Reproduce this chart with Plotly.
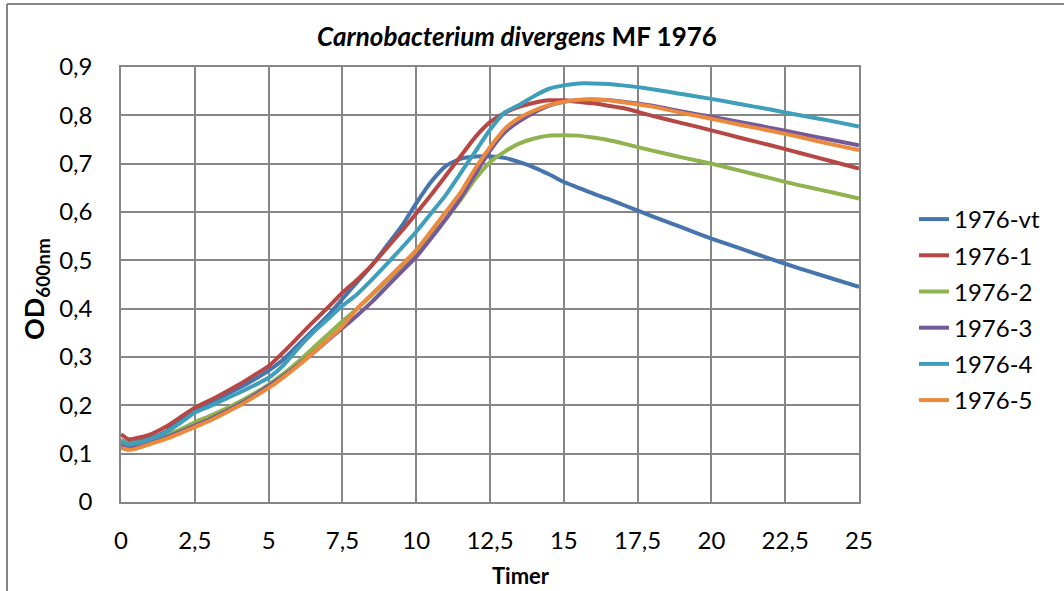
import plotly.graph_objects as go

# Time (hours)
timer = [0, 0.25, 0.5, 1, 1.5, 2, 2.5, 3, 3.5, 4, 4.5, 5, 5.5, 6, 6.5, 7, 7.5, 8, 8.5, 9,
         9.5, 10, 10.5, 11, 11.5, 12, 12.5, 13, 13.5, 14, 14.5, 15, 15.5, 16, 16.5, 17,
         18, 19, 20, 21, 22, 23, 24, 25]

od_vt = [0.128, 0.122, 0.124, 0.132, 0.145, 0.172, 0.190, 0.205, 0.220, 0.236, 0.253, 0.272,
         0.295, 0.325, 0.355, 0.385, 0.420, 0.455, 0.490, 0.530, 0.570, 0.618, 0.662, 0.695,
         0.710, 0.715, 0.715, 0.712, 0.703, 0.692, 0.678, 0.662, 0.650, 0.638, 0.627, 0.615,
         0.591, 0.568, 0.545, 0.524, 0.503, 0.483, 0.464, 0.445]

od_1 = [0.140, 0.130, 0.132, 0.140, 0.155, 0.175, 0.195, 0.210, 0.226, 0.243, 0.262, 0.281,
        0.310, 0.341, 0.372, 0.402, 0.433, 0.460, 0.490, 0.525, 0.560, 0.597, 0.635, 0.675,
        0.715, 0.755, 0.786, 0.805, 0.818, 0.826, 0.831, 0.831, 0.828, 0.825, 0.820, 0.815,
        0.799, 0.784, 0.769, 0.753, 0.738, 0.722, 0.706, 0.690]

od_2 = [0.127, 0.120, 0.122, 0.128, 0.138, 0.150, 0.165, 0.178, 0.192, 0.207, 0.224, 0.243,
        0.265, 0.290, 0.318, 0.346, 0.374, 0.400, 0.428, 0.457, 0.485, 0.515, 0.550, 0.585,
        0.625, 0.668, 0.703, 0.725, 0.742, 0.752, 0.758, 0.759, 0.758, 0.754, 0.749, 0.742,
        0.727, 0.713, 0.700, 0.685, 0.670, 0.655, 0.642, 0.628]

od_3 = [0.118, 0.112, 0.114, 0.123, 0.133, 0.145, 0.158, 0.171, 0.186, 0.202, 0.220, 0.240,
        0.261, 0.284, 0.308, 0.334, 0.360, 0.386, 0.414, 0.445, 0.476, 0.507, 0.545, 0.585,
        0.628, 0.678, 0.727, 0.765, 0.788, 0.806, 0.820, 0.828, 0.832, 0.833, 0.832, 0.828,
        0.820, 0.808, 0.797, 0.786, 0.774, 0.762, 0.750, 0.738]

od_4 = [0.125, 0.119, 0.121, 0.130, 0.143, 0.163, 0.185, 0.198, 0.212, 0.226, 0.241, 0.257,
        0.283, 0.318, 0.350, 0.378, 0.406, 0.430, 0.460, 0.492, 0.525, 0.559, 0.597, 0.635,
        0.680, 0.725, 0.770, 0.806, 0.822, 0.840, 0.855, 0.862, 0.866, 0.866, 0.865, 0.862,
        0.854, 0.844, 0.834, 0.823, 0.812, 0.800, 0.789, 0.777]

od_5 = [0.112, 0.108, 0.110, 0.120, 0.130, 0.142, 0.155, 0.168, 0.183, 0.199, 0.217, 0.236,
        0.258, 0.282, 0.308, 0.335, 0.364, 0.400, 0.430, 0.460, 0.490, 0.521, 0.560, 0.600,
        0.640, 0.690, 0.734, 0.772, 0.795, 0.810, 0.821, 0.828, 0.832, 0.833, 0.831, 0.827,
        0.818, 0.805, 0.793, 0.780, 0.768, 0.755, 0.741, 0.728]

series_names = ["1976-vt", "1976-1", "1976-2", "1976-3", "1976-4", "1976-5"]
series_values = [od_vt, od_1, od_2, od_3, od_4, od_5]
colors = ["#4675AE", "#B64744", "#8FB34E", "#755A99", "#3F9FBA", "#EB8A3C"]

x_ticks = [0, 2.5, 5, 7.5, 10, 12.5, 15, 17.5, 20, 22.5, 25]
y_ticks = [0, 0.1, 0.2, 0.3, 0.4, 0.5, 0.6, 0.7, 0.8, 0.9]

FONT = "Lato"
W, H = 1064, 591
L, R, T, B = 121, 205, 67, 89

fig = go.Figure()
for name, vals, col in zip(series_names, series_values, colors):
    fig.add_trace(go.Scatter(
        x=timer, y=vals, name=name, mode="lines", legendgroup=name,
        line=dict(color=col, width=4, shape="spline", smoothing=0.6),
    ))

grid = "#868686"
pw = W - L - R
ph = H - T - B

def px_to_paper_x(px):
    return (px - L) / pw

def py_to_paper_y(py):
    return (H - B - py) / ph

fig.update_layout(
    width=W, height=H,
    margin=dict(l=L, r=R, t=T, b=B),
    paper_bgcolor="white", plot_bgcolor="white",
    separators=",.",
    font=dict(family=FONT, size=24, color="black"),
    title=dict(
        text="<b><i>Carnobacterium divergens</i> MF 1976</b>",
        x=517 / W, xref="container", xanchor="center",
        y=1 - 37 / H, yref="container", yanchor="middle",
        font=dict(family=FONT, size=26, color="black"),
    ),
    xaxis=dict(
        range=[0, 25], tickvals=x_ticks, showgrid=True, gridcolor=grid, gridwidth=1.5,
        showline=True, linecolor=grid, linewidth=1.5, mirror=True, zeroline=False,
        ticks="", ticklabelstandoff=16, tickfont=dict(size=24),
    ),
    yaxis=dict(
        range=[0, 0.9], tickvals=y_ticks, showgrid=True, gridcolor=grid, gridwidth=1.5,
        showline=True, linecolor=grid, linewidth=1.5, mirror=True, zeroline=False,
        ticks="", ticklabelstandoff=22, tickfont=dict(size=24),
    ),
    legend=dict(
        x=px_to_paper_x(914), y=py_to_paper_y(197), xanchor="left", yanchor="top",
        font=dict(family=FONT, size=24), tracegroupgap=2, bgcolor="rgba(0,0,0,0)",
    ),
    showlegend=True,
)

# axis titles
fig.add_annotation(text="<b>Timer</b>", xref="paper", yref="paper",
                   x=px_to_paper_x(521), y=py_to_paper_y(575), xanchor="center", yanchor="middle",
                   showarrow=False, font=dict(family=FONT, size=22, color="black"))
fig.add_annotation(text="<b>OD<sub>600nm</sub></b>", xref="paper", yref="paper",
                   x=px_to_paper_x(35), y=py_to_paper_y(289), xanchor="center", yanchor="middle",
                   textangle=-90, showarrow=False, font=dict(family=FONT, size=27, color="black"))

# outer chart border (top and left)
fig.add_shape(type="line", xref="paper", yref="paper",
              x0=px_to_paper_x(7), x1=px_to_paper_x(W), y0=py_to_paper_y(4), y1=py_to_paper_y(4),
              line=dict(color=grid, width=2))
fig.add_shape(type="line", xref="paper", yref="paper",
              x0=px_to_paper_x(7), x1=px_to_paper_x(7), y0=py_to_paper_y(4), y1=py_to_paper_y(H),
              line=dict(color=grid, width=2))

fig.write_html("out.html")
